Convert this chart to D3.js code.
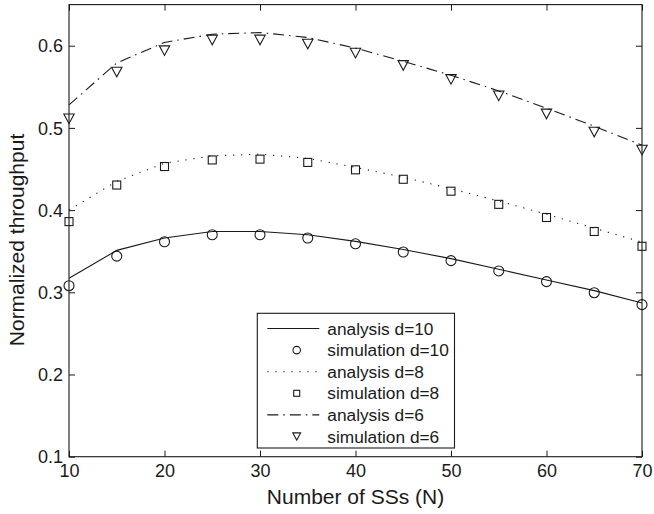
<!DOCTYPE html>
<html>
<head>
<meta charset="utf-8">
<script src="https://cdn.jsdelivr.net/npm/d3@7/dist/d3.min.js"></script>
<style>
  html, body { margin: 0; padding: 0; background: #fff; }
  svg { display: block; }
  text { font-family: "Liberation Sans", Arial, Helvetica, sans-serif; fill: #1a1a1a; }
</style>
</head>
<body>
<svg id="chart" width="654" height="514"></svg>
<script>
// Number of subscriber stations
const stations = [10, 15, 20, 25, 30, 35, 40, 45, 50, 55, 60, 65, 70];

// Normalized throughput, analytical model
const analysisD10 = [0.317, 0.351, 0.366, 0.374, 0.374, 0.370, 0.362, 0.352, 0.341, 0.328, 0.315, 0.302, 0.287];
const analysisD8  = [0.400, 0.435, 0.457, 0.466, 0.468, 0.463, 0.452, 0.440, 0.426, 0.411, 0.395, 0.378, 0.361];
const analysisD6  = [0.528, 0.579, 0.604, 0.614, 0.616, 0.610, 0.597, 0.581, 0.564, 0.545, 0.524, 0.502, 0.479];

// Normalized throughput, simulation
const simulationD10 = [0.308, 0.344, 0.3615, 0.370, 0.370, 0.366, 0.359, 0.349, 0.3385, 0.326, 0.313, 0.2995, 0.285];
const simulationD8  = [0.386, 0.4305, 0.453, 0.461, 0.462, 0.458, 0.449, 0.4375, 0.423, 0.407, 0.391, 0.374, 0.356];
const simulationD6  = [0.511, 0.568, 0.594, 0.607, 0.607, 0.602, 0.591, 0.576, 0.559, 0.539, 0.517, 0.495, 0.473];

const xTicks = [10, 20, 30, 40, 50, 60, 70];
const yTicks = [0.1, 0.2, 0.3, 0.4, 0.5, 0.6];
const legendLabels = ["analysis d=10", "simulation d=10", "analysis d=8", "simulation d=8", "analysis d=6", "simulation d=6"];

const svg = d3.select("#chart");
const plotLeft = 69, plotRight = 642, plotTop = 4.6, plotBottom = 456.7;

const x = d3.scaleLinear().domain([10, 70]).range([plotLeft, plotRight]);
const y = d3.scaleLinear().domain([0.1, 0.65]).range([plotBottom, plotTop]);

const ink = "#1a1a1a";
const tickLen = 6;

// Axes: ticks pointing inward, mirrored on top and right
const axB = svg.append("g").attr("transform", `translate(0,${plotBottom})`)
  .call(d3.axisBottom(x).tickValues(xTicks).tickSizeInner(-tickLen).tickSizeOuter(0).tickPadding(9).tickFormat(d3.format("d")));
const axT = svg.append("g").attr("transform", `translate(0,${plotTop})`)
  .call(d3.axisTop(x).tickValues(xTicks).tickSizeInner(-tickLen).tickSizeOuter(0).tickFormat(""));
const axL = svg.append("g").attr("transform", `translate(${plotLeft},0)`)
  .call(d3.axisLeft(y).tickValues(yTicks).tickSizeInner(-tickLen).tickSizeOuter(0).tickPadding(6).tickFormat(d3.format(".1f")));
const axR = svg.append("g").attr("transform", `translate(${plotRight},0)`)
  .call(d3.axisRight(y).tickValues(yTicks).tickSizeInner(-tickLen).tickSizeOuter(0).tickFormat(""));

[axB, axT, axL, axR].forEach(g => {
  g.select(".domain").remove();
  g.selectAll(".tick line").attr("stroke", ink).attr("stroke-width", 1);
  g.selectAll("text").attr("font-size", 18).attr("fill", ink)
    .style("font-family", '"Liberation Sans", Arial, Helvetica, sans-serif');
});
axB.selectAll(".tick text").attr("dy", null).attr("y", 20.5);
axL.selectAll(".tick text").attr("dy", "0.34em").attr("x", -6);

// Plot frame
svg.append("rect")
  .attr("x", plotLeft).attr("y", plotTop)
  .attr("width", plotRight - plotLeft).attr("height", plotBottom - plotTop)
  .attr("fill", "none").attr("stroke", ink).attr("stroke-width", 1.1);

// Axis titles
svg.append("text")
  .attr("x", (plotLeft + plotRight) / 2).attr("y", 504)
  .attr("text-anchor", "middle").attr("font-size", 21)
  .text("Number of SSs (N)");
svg.append("text")
  .attr("transform", "translate(23.5,240) rotate(-90)")
  .attr("text-anchor", "middle").attr("font-size", 21)
  .text("Normalized throughput");

const styles = {
  solid: null,
  dotted: "1.2 6.8",
  dashdot: "11 5 1.5 5"
};

const line = d3.line().x((d, i) => x(stations[i])).y(d => y(d));

function drawLine(values, dash) {
  svg.append("path")
    .datum(values)
    .attr("d", line)
    .attr("fill", "none")
    .attr("stroke", ink)
    .attr("stroke-width", 1.1)
    .attr("stroke-dasharray", dash);
}

function marker(g, shape, cx, cy, s) {
  if (shape === "circle") {
    g.append("circle").attr("cx", cx).attr("cy", cy).attr("r", 5 * s);
  } else if (shape === "square") {
    const h = 4 * s;
    g.append("rect").attr("x", cx - h).attr("y", cy - h).attr("width", 2 * h).attr("height", 2 * h);
  } else {
    const w = 5.2 * s, h = 4.8 * s;
    g.append("path").attr("d", `M${cx - w},${cy - h}L${cx + w},${cy - h}L${cx},${cy + h}Z`);
  }
}

function drawMarkers(values, shape) {
  const g = svg.append("g").attr("fill", "none").attr("stroke", ink).attr("stroke-width", 1.1);
  values.forEach((v, i) => marker(g, shape, x(stations[i]), y(v), 1));
}

drawLine(analysisD10, styles.solid);
drawLine(analysisD8, styles.dotted);
drawLine(analysisD6, styles.dashdot);
drawMarkers(simulationD10, "circle");
drawMarkers(simulationD8, "square");
drawMarkers(simulationD6, "triangle");

// Legend
const legend = svg.append("g");
legend.append("rect")
  .attr("x", 257.3).attr("y", 313.3).attr("width", 197.2).attr("height", 134.7)
  .attr("fill", "#fff").attr("stroke", ink).attr("stroke-width", 1.1);

const entries = [
  { kind: "line", dash: styles.solid },
  { kind: "marker", shape: "circle" },
  { kind: "line", dash: styles.dotted },
  { kind: "marker", shape: "square" },
  { kind: "line", dash: styles.dashdot },
  { kind: "marker", shape: "triangle" }
];
entries.forEach((e, i) => {
  const cy = 328.5 + i * 21.6;
  if (e.kind === "line") {
    legend.append("line")
      .attr("x1", 267.3).attr("x2", 319.3).attr("y1", cy).attr("y2", cy)
      .attr("stroke", ink).attr("stroke-width", 1.1).attr("stroke-dasharray", e.dash);
  } else {
    const g = legend.append("g").attr("fill", "none").attr("stroke", ink).attr("stroke-width", 1.1);
    marker(g, e.shape, 296.7, cy, 0.75);
  }
  legend.append("text")
    .attr("x", 327.3).attr("y", cy + 6)
    .attr("font-size", 17.3)
    .text(legendLabels[i]);
});
</script>
</body>
</html>
